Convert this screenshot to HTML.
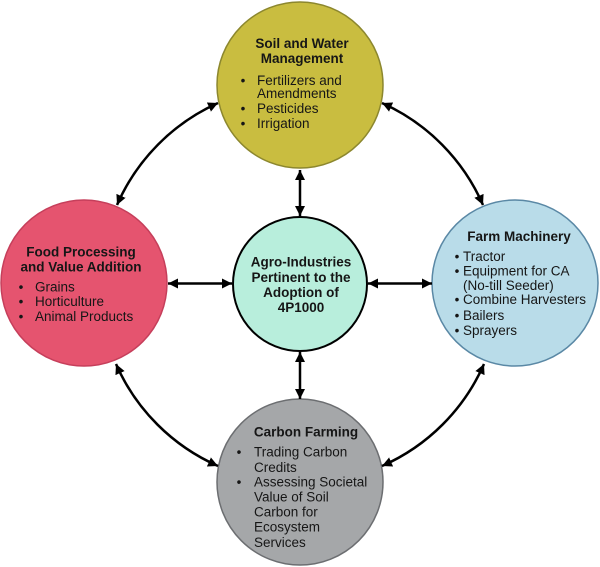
<!DOCTYPE html>
<html>
<head>
<meta charset="utf-8">
<style>
  html, body { margin: 0; padding: 0; background: #ffffff; }
  body { width: 600px; height: 567px; overflow: hidden; }
  svg { display: block; }
  text { font-family: "Liberation Sans", Arial, sans-serif; fill: #161616; font-size: 13.5px; }
  .b { font-weight: bold; }
</style>
</head>
<body>
<svg width="600" height="567" viewBox="0 0 600 567" xmlns="http://www.w3.org/2000/svg">
  <defs>
    <marker id="ah" viewBox="0 0 10 10" refX="10" refY="5" markerWidth="4" markerHeight="4" markerUnits="strokeWidth" orient="auto-start-reverse">
      <path d="M0,0 L10,5 L0,10 z" fill="#000"/>
    </marker>
  </defs>

  <!-- circles -->
  <circle cx="300" cy="85" r="83" fill="#c9bd40" stroke="#8c872e" stroke-width="1.5"/>
  <circle cx="84" cy="283" r="83" fill="#e5546f" stroke="#c63f5b" stroke-width="1.5"/>
  <circle cx="515" cy="283" r="83" fill="#b9dce9" stroke="#5a88a5" stroke-width="1.5"/>
  <circle cx="300" cy="482" r="83" fill="#a5a7a9" stroke="#6c6e71" stroke-width="1.5"/>
  <circle cx="300" cy="284" r="67" fill="#b8eedc" stroke="#000" stroke-width="2"/>

  <!-- straight arrows -->
  <g stroke="#000" stroke-width="2.5" fill="none">
    <line x1="300" y1="170" x2="300" y2="216" marker-start="url(#ah)" marker-end="url(#ah)"/>
    <line x1="300" y1="352" x2="300" y2="399" marker-start="url(#ah)" marker-end="url(#ah)"/>
    <line x1="168" y1="283.5" x2="232" y2="283.5" marker-start="url(#ah)" marker-end="url(#ah)"/>
    <line x1="368" y1="283.5" x2="432" y2="283.5" marker-start="url(#ah)" marker-end="url(#ah)"/>
    <!-- curved arrows -->
    <path d="M218,103 A199,199 0 0 0 117,205" marker-start="url(#ah)" marker-end="url(#ah)"/>
    <path d="M382,103 A199,199 0 0 1 483,205" marker-start="url(#ah)" marker-end="url(#ah)"/>
    <path d="M116,364 A199,199 0 0 0 218,466" marker-start="url(#ah)" marker-end="url(#ah)"/>
    <path d="M484,364 A199,199 0 0 1 382,466" marker-start="url(#ah)" marker-end="url(#ah)"/>
  </g>

  <!-- Top circle text -->
  <text class="b" x="302" y="48" text-anchor="middle">Soil and Water</text>
  <text class="b" x="302" y="63" text-anchor="middle">Management</text>
  <text x="243" y="85" text-anchor="middle">•</text>
  <text x="257" y="85">Fertilizers and</text>
  <text x="257" y="98">Amendments</text>
  <text x="243" y="113" text-anchor="middle">•</text>
  <text x="257" y="113">Pesticides</text>
  <text x="243" y="128" text-anchor="middle">•</text>
  <text x="257" y="128">Irrigation</text>

  <!-- Left circle text -->
  <text class="b" x="81" y="256.5" text-anchor="middle">Food Processing</text>
  <text class="b" x="81" y="271.5" text-anchor="middle">and Value Addition</text>
  <text x="21" y="291.5" text-anchor="middle">•</text>
  <text x="35" y="291.5">Grains</text>
  <text x="21" y="306" text-anchor="middle">•</text>
  <text x="35" y="306">Horticulture</text>
  <text x="21" y="321" text-anchor="middle">•</text>
  <text x="35" y="321">Animal Products</text>

  <!-- Right circle text -->
  <text class="b" x="519" y="241" text-anchor="middle">Farm Machinery</text>
  <text x="457" y="261" text-anchor="middle">•</text>
  <text x="463" y="261">Tractor</text>
  <text x="457" y="275.5" text-anchor="middle">•</text>
  <text x="463" y="275.5">Equipment for CA</text>
  <text x="463" y="290">(No-till Seeder)</text>
  <text x="457" y="304" text-anchor="middle">•</text>
  <text x="463" y="304">Combine Harvesters</text>
  <text x="457" y="320" text-anchor="middle">•</text>
  <text x="463" y="320">Bailers</text>
  <text x="457" y="335" text-anchor="middle">•</text>
  <text x="463" y="335">Sprayers</text>

  <!-- Bottom circle text -->
  <text class="b" x="306" y="436.5" text-anchor="middle">Carbon Farming</text>
  <text x="239" y="456.5" text-anchor="middle">•</text>
  <text x="254" y="456.5">Trading Carbon</text>
  <text x="254" y="472">Credits</text>
  <text x="239" y="486.5" text-anchor="middle">•</text>
  <text x="254" y="486.5">Assessing Societal</text>
  <text x="254" y="501.5">Value of Soil</text>
  <text x="254" y="516.5">Carbon for</text>
  <text x="254" y="531.5">Ecosystem</text>
  <text x="254" y="547">Services</text>

  <!-- Center text -->
  <text class="b" x="301" y="266.5" text-anchor="middle">Agro-Industries</text>
  <text class="b" x="301" y="282" text-anchor="middle">Pertinent to the</text>
  <text class="b" x="301" y="297" text-anchor="middle">Adoption of</text>
  <text class="b" x="301" y="312" text-anchor="middle">4P1000</text>
</svg>
</body>
</html>
